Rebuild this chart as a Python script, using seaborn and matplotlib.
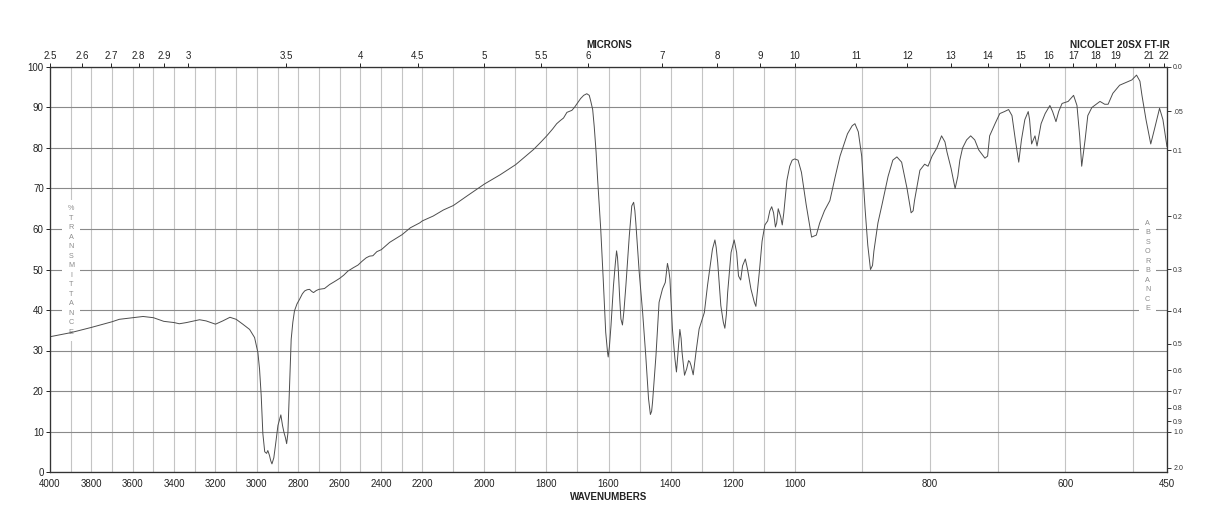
import numpy as np
import pandas as pd
import seaborn as sns
import matplotlib.pyplot as plt

# spectrum (wavenumber, %T)
wn = [4000, 3900, 3800, 3700, 3665, 3600, 3550, 3500, 3450, 3400, 3375, 3340, 3277, 3245,
      3200, 3165, 3130, 3100, 3068, 3035, 3011, 2995, 2987, 2979, 2971, 2962, 2953, 2947,
      2939, 2933, 2927, 2918, 2910, 2898, 2884, 2876, 2869, 2862, 2856, 2850, 2845, 2840,
      2834, 2826, 2818, 2806, 2794, 2780, 2769, 2757, 2745, 2735, 2726, 2713, 2700, 2673,
      2648, 2625, 2600, 2580, 2560, 2535, 2511, 2490, 2471, 2455, 2439, 2420, 2398, 2378,
      2358, 2330, 2298, 2258, 2213, 2200, 2165, 2132, 2100, 2057, 2000, 1949, 1899, 1870,
      1842, 1820, 1799, 1780, 1767, 1755, 1745, 1734, 1718, 1710, 1699, 1690, 1680, 1670,
      1662, 1657, 1651, 1646, 1640, 1635, 1630, 1625, 1617, 1609, 1603, 1601, 1597, 1592,
      1584, 1578, 1574, 1571, 1568, 1564, 1560, 1555, 1550, 1544, 1533, 1525, 1519, 1515,
      1512, 1501, 1490, 1480, 1471, 1465, 1461, 1458, 1447, 1437, 1426, 1417, 1410, 1406,
      1402, 1394, 1386, 1381, 1376, 1370, 1366, 1363, 1355, 1348, 1342, 1338, 1334, 1327,
      1318, 1308, 1291, 1281, 1265, 1257, 1253, 1248, 1238, 1230, 1225, 1220, 1216, 1205,
      1195, 1187, 1181, 1174, 1168, 1159, 1152, 1141, 1130, 1125, 1114, 1105, 1096, 1087,
      1080, 1074, 1068, 1062, 1058, 1053, 1045, 1040, 1035, 1025, 1016, 1008, 1000, 995,
      990, 983, 975, 968, 963, 956, 948, 940, 933, 922, 915, 911, 906, 901, 896, 892, 888,
      885, 883, 877, 871, 862, 855, 849, 842, 834, 830, 828, 825, 823, 815, 808, 803, 797,
      790, 783, 778, 775, 769, 763, 759, 756, 752, 746, 740, 734, 728, 719, 715, 712, 704,
      697, 690, 684, 679, 674, 669, 665, 660, 655, 653, 650, 645, 642, 636, 630, 623, 619,
      614, 610, 605, 596, 588, 583, 579, 576, 571, 567, 561, 553, 549, 542, 537, 530, 520,
      509, 502, 495, 490, 487, 481, 474, 468, 461, 456, 450]
trans = [33.4, 34.4, 35.7, 37.1, 37.7, 38.1, 38.4, 38.1, 37.2, 36.9, 36.6, 36.9, 37.6, 37.3,
         36.5, 37.3, 38.2, 37.7, 36.5, 35.2, 33.2, 29.5, 25.4, 18.9, 9.5, 5.0, 4.6, 5.3,
         4.1, 2.8, 2.0, 3.5, 6.6, 11.5, 14.1, 11.5, 9.8, 8.5, 7.0, 9.5, 16.4, 24.0,
         32.8, 37.0, 39.8, 41.5, 42.6, 44.0, 44.7, 45.0, 45.1, 44.6, 44.3, 44.8, 45.1, 45.3,
         46.3, 47.0, 47.8, 48.6, 49.6, 50.4, 51.1, 52.1, 52.9, 53.3, 53.4, 54.4, 54.9, 55.8,
         56.7, 57.6, 58.6, 60.3, 61.5, 62.0, 63.2, 64.7, 65.8, 68.1, 71.1, 73.4, 75.9, 77.8,
         79.6, 81.3, 83.0, 84.7, 86.0, 86.8, 87.4, 88.8, 89.3, 90.0, 91.2, 92.2, 93.0, 93.4,
         93.0, 91.5, 89.5, 85.3, 79.0, 72.2, 66.0, 59.9, 47.6, 34.5, 29.5, 28.4, 31.0, 36.1,
         46.0, 51.5, 54.6, 53.0, 49.3, 43.0, 37.8, 36.3, 40.0, 46.0, 58.3, 65.7, 66.6, 64.5,
         61.6, 49.3, 39.4, 28.8, 18.1, 14.2, 15.0, 17.3, 28.8, 41.9, 45.2, 46.8, 51.5, 50.0,
         47.6, 35.3, 28.0, 24.7, 29.6, 35.2, 33.0, 29.6, 23.9, 25.5, 27.5, 27.2, 26.3, 24.0,
         29.6, 35.3, 39.4, 46.0, 55.0, 57.3, 55.5, 51.7, 41.1, 37.0, 35.5, 39.0, 44.3, 54.2,
         57.3, 54.2, 48.4, 47.4, 50.9, 52.6, 50.1, 45.2, 41.9, 40.9, 49.3, 57.0, 61.0, 62.0,
         64.5, 65.5, 64.0, 60.5, 61.5, 65.0, 63.0, 61.0, 64.0, 72.0, 75.5, 77.0, 77.3, 77.0,
         74.0, 66.0, 58.0, 58.5, 61.5, 64.5, 67.0, 73.0, 78.0, 83.5, 85.5, 86.0, 84.0, 78.0,
         65.0, 56.0, 50.0, 51.0, 54.5, 61.5, 66.0, 73.0, 77.0, 77.8, 76.5, 70.0, 66.0, 64.0,
         64.5, 67.0, 74.5, 76.0, 75.5, 78.0, 80.0, 83.0, 81.5, 79.0, 75.0, 70.0, 73.0, 77.0,
         80.0, 82.0, 83.0, 82.0, 79.5, 77.5, 78.0, 83.0, 86.0, 88.5, 89.0, 89.5, 88.0, 82.0,
         76.5, 82.0, 87.0, 89.0, 87.0, 81.0, 83.0, 80.5, 86.0, 88.5, 90.5, 89.0, 86.5, 89.0,
         91.0, 91.5, 93.0, 90.5, 83.0, 75.5, 82.0, 88.0, 90.0, 91.0, 91.5, 90.8, 90.8, 93.5,
         95.5, 96.3, 96.8, 98.0, 96.5, 93.0, 87.0, 81.0, 85.0, 89.8, 87.0, 80.3]

wn_ticks = [4000, 3800, 3600, 3400, 3200, 3000, 2800, 2600, 2400, 2200, 2000, 1800,
            1600, 1400, 1200, 1000, 800, 600, 450]
micron_ticks = [2.5, 2.6, 2.7, 2.8, 2.9, 3, 3.5, 4, 4.5, 5, 5.5, 6, 7, 8, 9, 10,
                11, 12, 13, 14, 15, 16, 17, 18, 19, 21, 22]
micron_labels = ['2.5', '2.6', '2.7', '2.8', '2.9', '3', '3.5', '4', '4.5', '5', '5.5',
                 '6', '7', '8', '9', '10', '11', '12', '13', '14', '15', '16', '17',
                 '18', '19', '21', '22']
abs_ticks = [0.0, 0.05, 0.1, 0.2, 0.3, 0.4, 0.5, 0.6, 0.7, 0.8, 0.9, 1.0, 2.0]
abs_labels = ['0.0', '.05', '0.1', '0.2', '0.3', '0.4', '0.5', '0.6', '0.7', '0.8',
              '0.9', '1.0', '2.0']


# chart paper: 4000-2200, 2200-1000 and 1000-450 each take a third of the width
def fwd(v):
    v = np.asarray(v, dtype=float)
    return np.where(v < 1000, (v - 450) / 550,
                    np.where(v < 2200, 1 + (v - 1000) / 1200, 2 + (v - 2200) / 1800))


def inv(p):
    p = np.asarray(p, dtype=float)
    return np.where(p < 1, 450 + p * 550,
                    np.where(p < 2, 1000 + (p - 1) * 1200, 2200 + (p - 2) * 1800))


sns.set_style('white')
plt.rcParams['font.family'] = ['Liberation Sans', 'DejaVu Sans']
plt.rcParams['axes.edgecolor'] = '#333333'
plt.rcParams['axes.linewidth'] = 0.8

fig = plt.figure(figsize=(12.18, 5.28), dpi=100)
ax = fig.add_axes([50 / 1218, 56 / 528, 1117 / 1218, 405 / 528])

df = pd.DataFrame({'wavenumber': wn, 'transmittance': trans})
sns.lineplot(data=df, x='wavenumber', y='transmittance', ax=ax, color='#4d4d4d',
             lw=0.7, sort=False, estimator=None, zorder=2)

ax.set_xscale('function', functions=(fwd, inv))
ax.set_xlim(4000, 450)
ax.set_ylim(0, 100)
ax.set_xticks(wn_ticks)
ax.set_xticklabels([str(t) for t in wn_ticks])
ax.set_xticks(list(range(500, 4000, 100)), minor=True)
ax.set_yticks(range(0, 101, 10))
ax.set_xlabel('')
ax.set_ylabel('')
ax.set_axisbelow(True)
ax.grid(axis='x', which='both', color='#c4c4c4', lw=0.8)
ax.grid(axis='y', which='major', color='#8a8a8a', lw=0.8)
ax.tick_params(axis='x', which='both', length=0, pad=5, labelsize=7, colors='#222222')
ax.tick_params(axis='y', length=3, width=0.7, pad=1.5, labelsize=7, colors='#222222',
               direction='out', left=True)

# microns on top
ax_top = ax.twiny()
ax_top.set_xscale('function', functions=(fwd, inv))
ax_top.set_xlim(4000, 450)
ax_top.set_xticks([10000 / m for m in micron_ticks])
ax_top.set_xticklabels(micron_labels)
ax_top.xaxis.set_minor_locator(plt.NullLocator())
ax_top.tick_params(axis='x', length=3, width=0.7, pad=1, labelsize=7, colors='#222222',
                   direction='out', top=True)

# absorbance on the right
ax_r = ax.twinx()
ax_r.set_ylim(0, 100)
ax_r.set_yticks([100 * 10 ** (-a) for a in abs_ticks])
ax_r.set_yticklabels(abs_labels)
ax_r.tick_params(axis='y', length=3, width=0.7, pad=1.5, labelsize=5, colors='#333333',
                 direction='out', right=True)

for a_ in (ax, ax_top, ax_r):
    for s in a_.spines.values():
        s.set_color('#333333')
        s.set_linewidth(0.8)

box = dict(facecolor='white', edgecolor='none', pad=4)
ax.text(71 / 1218, 1 - 270.5 / 528, '\n'.join('%TRANSMITTANCE'), transform=fig.transFigure,
        ha='center', va='center', fontsize=5.2, color='#8c8c8c', linespacing=1.5,
        bbox=box, zorder=1)
ax.text(1147.7 / 1218, 1 - 266 / 528, '\n'.join('ABSORBANCE'), transform=fig.transFigure,
        ha='center', va='center', fontsize=5.2, color='#8c8c8c', linespacing=1.5,
        bbox=box, zorder=1)

fig.text(609 / 1218, 1 - 45 / 528, 'MICRONS', ha='center', va='center',
         fontsize=7, fontweight='bold', color='#222222')
fig.text(1120 / 1218, 1 - 45 / 528, 'NICOLET 20SX FT-IR', ha='center', va='center',
         fontsize=7.3, fontweight='bold', color='#222222')
fig.text(609 / 1218, 1 - 496.5 / 528, 'WAVENUMBERS', ha='center', va='center',
         fontsize=7, fontweight='bold', color='#222222')

fig.savefig('out.png', dpi=100)
